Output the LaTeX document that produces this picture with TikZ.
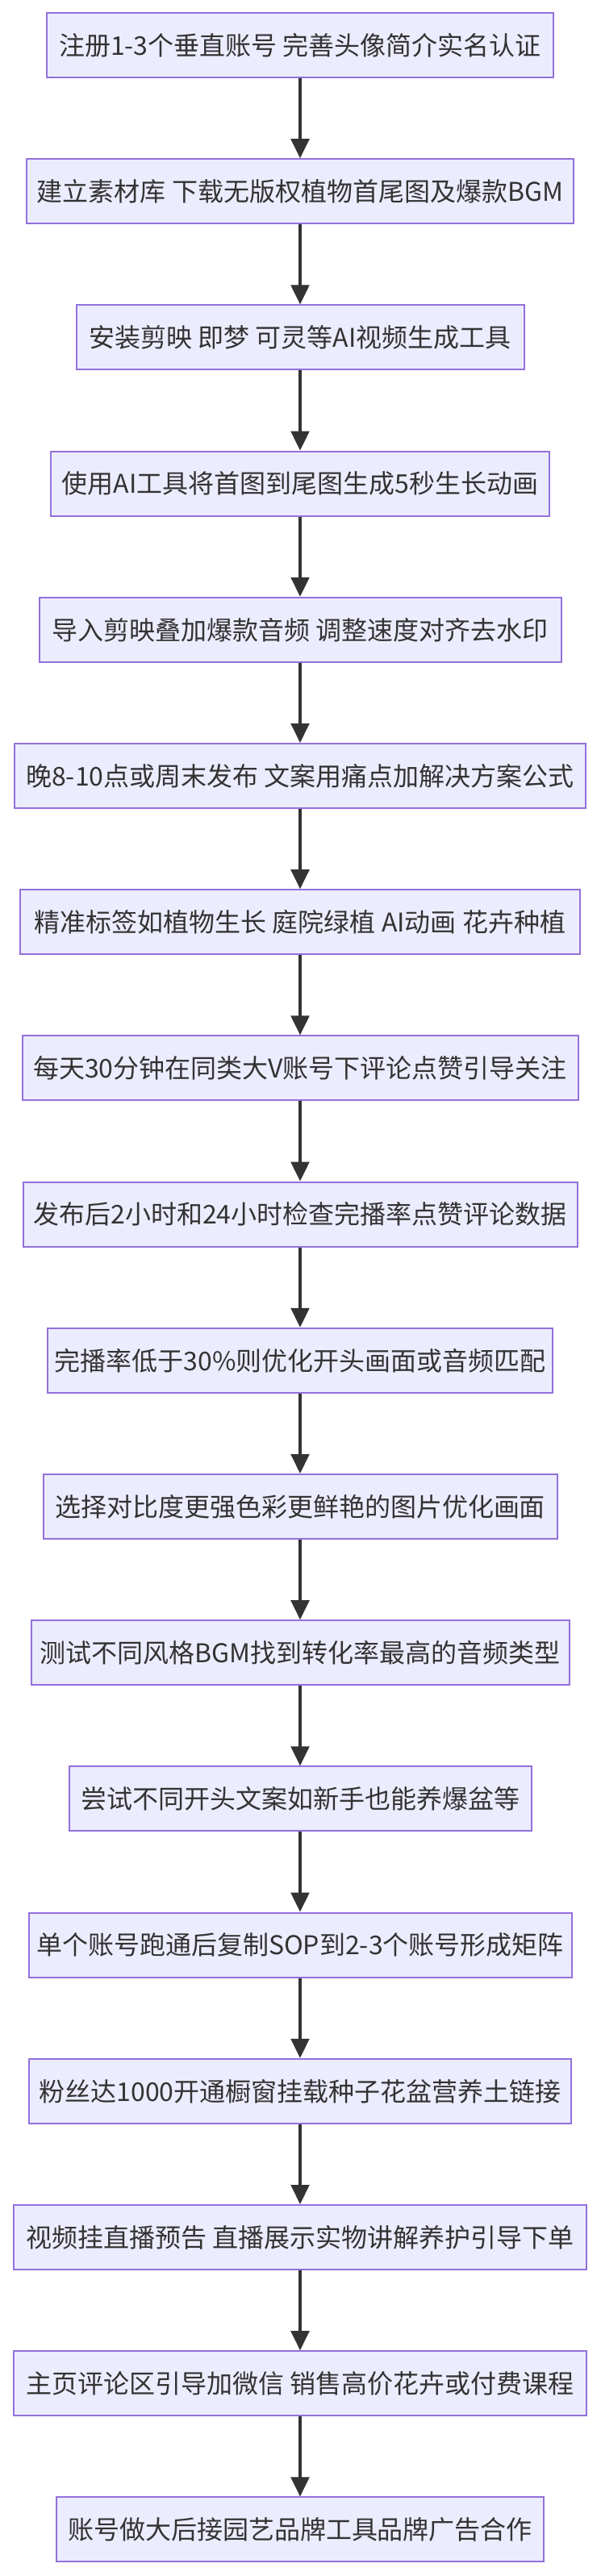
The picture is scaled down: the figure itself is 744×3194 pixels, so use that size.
\documentclass[tikz,border=0pt]{standalone}
\usepackage{fontspec}
\usepackage{xcolor}
\usepackage{tikz}
\usetikzlibrary{arrows.meta, positioning}
\newfontfamily\cjkfont{Noto Sans CJK SC}
\definecolor{flowFill}{HTML}{ECECFF}
\definecolor{flowLine}{HTML}{9370DB}
\definecolor{flowDark}{HTML}{333333}

\begin{document}
\begin{tikzpicture}[
    x=0.75pt, y=0.75pt,
    stepbox/.style={draw=flowLine, fill=flowFill, rectangle, line width=1.5pt, inner sep=0pt, minimum height=60pt, font=\cjkfont\fontsize{24}{28}\selectfont, text=flowDark},
    flowarrow/.style={draw=flowDark, line width=2.4pt, -{Triangle[length=18pt, width=17pt]}}
]
\useasboundingbox (0,0) rectangle (744,-3194);

% Steps
\node (s1) [stepbox, minimum width=628*0.75pt] at (372,-56) {注册1-3个垂直账号 完善头像简介实名认证};
\node (s2) [stepbox, minimum width=678*0.75pt] at (372,-237.2) {建立素材库 下载无版权植物首尾图及爆款BGM};
\node (s3) [stepbox, minimum width=555*0.75pt] at (372,-418.4) {安装剪映 即梦 可灵等AI视频生成工具};
\node (s4) [stepbox, minimum width=618*0.75pt] at (372,-599.6) {使用AI工具将首图到尾图生成5秒生长动画};
\node (s5) [stepbox, minimum width=647*0.75pt] at (372,-780.8) {导入剪映叠加爆款音频 调整速度对齐去水印};
\node (s6) [stepbox, minimum width=708*0.75pt] at (372,-962) {晚8-10点或周末发布 文案用痛点加解决方案公式};
\node (s7) [stepbox, minimum width=694*0.75pt] at (372,-1143.2) {精准标签如植物生长 庭院绿植 AI动画 花卉种植};
\node (s8) [stepbox, minimum width=689*0.75pt] at (372,-1324.4) {每天30分钟在同类大V账号下评论点赞引导关注};
\node (s9) [stepbox, minimum width=687*0.75pt] at (372,-1505.6) {发布后2小时和24小时检查完播率点赞评论数据};
\node (s10) [stepbox, minimum width=626*0.75pt] at (372,-1686.8) {完播率低于30\%则优化开头画面或音频匹配};
\node (s11) [stepbox, minimum width=637*0.75pt] at (372,-1868) {选择对比度更强色彩更鲜艳的图片优化画面};
\node (s12) [stepbox, minimum width=667*0.75pt] at (372,-2049.2) {测试不同风格BGM找到转化率最高的音频类型};
\node (s13) [stepbox, minimum width=573*0.75pt] at (372,-2230.4) {尝试不同开头文案如新手也能养爆盆等};
\node (s14) [stepbox, minimum width=673*0.75pt] at (372,-2411.6) {单个账号跑通后复制SOP到2-3个账号形成矩阵};
\node (s15) [stepbox, minimum width=672*0.75pt] at (372,-2592.8) {粉丝达1000开通橱窗挂载种子花盆营养土链接};
\node (s16) [stepbox, minimum width=710*0.75pt] at (372,-2774) {视频挂直播预告 直播展示实物讲解养护引导下单};
\node (s17) [stepbox, minimum width=710*0.75pt] at (372,-2955.2) {主页评论区引导加微信 销售高价花卉或付费课程};
\node (s18) [stepbox, minimum width=604*0.75pt] at (372,-3136.4) {账号做大后接园艺品牌工具品牌广告合作};

% Arrows
\draw[flowarrow] (s1) -- (s2);
\draw[flowarrow] (s2) -- (s3);
\draw[flowarrow] (s3) -- (s4);
\draw[flowarrow] (s4) -- (s5);
\draw[flowarrow] (s5) -- (s6);
\draw[flowarrow] (s6) -- (s7);
\draw[flowarrow] (s7) -- (s8);
\draw[flowarrow] (s8) -- (s9);
\draw[flowarrow] (s9) -- (s10);
\draw[flowarrow] (s10) -- (s11);
\draw[flowarrow] (s11) -- (s12);
\draw[flowarrow] (s12) -- (s13);
\draw[flowarrow] (s13) -- (s14);
\draw[flowarrow] (s14) -- (s15);
\draw[flowarrow] (s15) -- (s16);
\draw[flowarrow] (s16) -- (s17);
\draw[flowarrow] (s17) -- (s18);

\end{tikzpicture}
\end{document}
